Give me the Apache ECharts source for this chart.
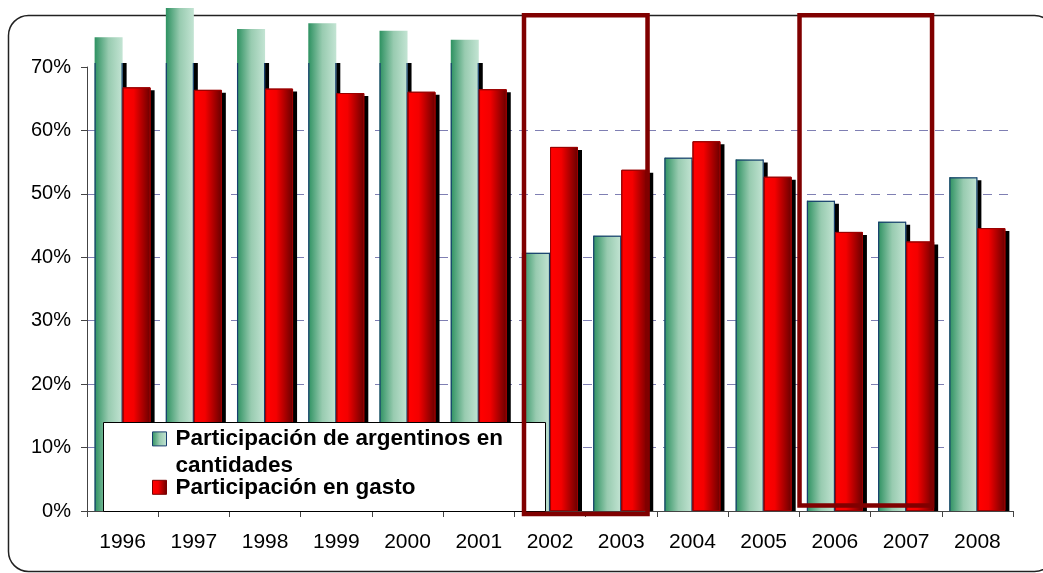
<!DOCTYPE html>
<html>
<head>
<meta charset="utf-8">
<script src="https://cdn.jsdelivr.net/npm/echarts@6/dist/echarts.min.js"></script>
<style>
  html, body { margin: 0; padding: 0; background: #fff; }
  #chart { width: 1043px; height: 573px; }
</style>
</head>
<body>
<div id="chart"></div>
<script>
// ---- data ----
const years = ['1996', '1997', '1998', '1999', '2000', '2001', '2002', '2003', '2004', '2005', '2006', '2007', '2008'];
// share of Argentine visitors in total arrivals (%)
const cantidades = [74.7, 79.3, 76.0, 76.9, 75.7, 74.3, 40.7, 43.4, 55.7, 55.4, 48.9, 45.6, 52.6];
// share of Argentine visitors in total spending (%)
const gasto = [66.8, 66.4, 66.6, 65.9, 66.1, 66.5, 57.4, 53.8, 58.3, 52.7, 44.0, 42.5, 44.6];
const yTicks = [0, 10, 20, 30, 40, 50, 60, 70];
const nameCant = 'Participación de argentinos en cantidades';
const nameGasto = 'Participación en gasto';
const cantLines = ['Participación de argentinos en', 'cantidades'];
// periods framed in dark red
const framedPeriods = [['2002', '2003'], ['2006', '2007']];

// ---- styling ----
const FONT = '"Liberation Sans", Arial, sans-serif';
const BAR_W = 28;
const SH_X = 4, SH_Y = 3;
const NAVY = '#173f6e';
const LEG_LH = 26.6;

const greenFill = new echarts.graphic.LinearGradient(0, 0, 1, 0, [
  { offset: 0, color: '#2d9161' },
  { offset: 0.5, color: '#98cbb0' },
  { offset: 1, color: '#c3e4d3' }
]);
const redFill = new echarts.graphic.LinearGradient(0, 0, 1, 0, [
  { offset: 0, color: '#e80000' },
  { offset: 0.08, color: '#ff0000' },
  { offset: 0.4, color: '#f40000' },
  { offset: 1, color: '#680000' }
]);

const rows = years.map((y, i) => [i, cantidades[i], gasto[i]]);

// drop shadows behind both bars, clipped to the plot area
function renderShadows(params, api) {
  const i = api.value(0);
  const cs = params.coordSys;
  const clip = { x: cs.x, y: cs.y - 4, width: cs.width, height: cs.height + 4 };
  const base = api.coord([i, 0]);
  const cx = base[0];
  const children = [];
  [[api.value(1), -BAR_W], [api.value(2), 0]].forEach(function (p) {
    const top = api.coord([i, p[0]])[1];
    const r = echarts.graphic.clipRectByRect({
      x: cx + p[1] + SH_X, y: top + SH_Y, width: BAR_W, height: base[1] - top
    }, clip);
    if (r) children.push({ type: 'rect', shape: r, style: { fill: '#000' } });
  });
  return { type: 'group', children: children };
}

// navy outline of the green bars, only inside the plot area
function renderOutline(params, api) {
  const i = api.value(0);
  const cs = params.coordSys;
  const clipTop = cs.y - 4;
  const base = api.coord([i, 0]);
  const cx = base[0];
  const bottom = base[1];
  const top = api.coord([i, api.value(1)])[1];
  const t = Math.max(top, clipTop);
  const left = cx - BAR_W + 0.5;
  const right = cx - 0.5;
  const st = { stroke: NAVY, lineWidth: 1.2, fill: null };
  const children = [
    { type: 'line', shape: { x1: left, y1: t, x2: left, y2: bottom }, style: st },
    { type: 'line', shape: { x1: right, y1: t, x2: right, y2: bottom }, style: st }
  ];
  if (top >= clipTop) {
    children.push({ type: 'line', shape: { x1: left, y1: top + 0.5, x2: right, y2: top + 0.5 }, style: st });
  }
  return { type: 'group', children: children };
}

const chart = echarts.init(document.getElementById('chart'), null, { renderer: 'canvas' });

const legendText = { fontFamily: FONT, fontSize: 22.5, fontWeight: 'bold', color: '#000', lineHeight: LEG_LH, padding: [0, 0, 0, 4] };

chart.setOption({
  animation: false,
  backgroundColor: '#fff',
  grid: { left: 87, right: 30, top: 67, bottom: 62, containLabel: false },
  xAxis: {
    type: 'category',
    data: years,
    boundaryGap: true,
    axisLine: { lineStyle: { color: '#444', width: 1 } },
    axisTick: { show: true, length: 6, lineStyle: { color: '#444' } },
    axisLabel: { color: '#000', fontFamily: FONT, fontSize: 21, margin: 21 },
    splitLine: { show: false }
  },
  yAxis: {
    type: 'value',
    min: yTicks[0],
    max: yTicks[yTicks.length - 1],
    interval: yTicks[1] - yTicks[0],
    axisLine: { show: true, lineStyle: { color: '#444', width: 1 } },
    axisTick: { show: true, length: 6, lineStyle: { color: '#444' } },
    axisLabel: { color: '#000', fontFamily: FONT, fontSize: 20, margin: 16, formatter: '{value}%' },
    splitLine: {
      show: true,
      showMinLine: false,
      showMaxLine: false,
      lineStyle: { color: '#7f7fb3', width: 1, type: [9, 7] }
    }
  },
  legend: [
    {
      data: [{ name: nameCant, itemStyle: { borderColor: NAVY, borderWidth: 1 } }],
      // leading blank line keeps the first text line level with the icon
      formatter: function () { return ' \n' + cantLines.join('\n'); },
      orient: 'vertical',
      left: 152, top: 399, padding: 0,
      itemWidth: 14, itemHeight: 14,
      icon: 'rect',
      selectedMode: false,
      textStyle: legendText,
      z: 6
    },
    {
      data: [{ name: nameGasto, itemStyle: { borderColor: '#7a0000', borderWidth: 1 } }],
      orient: 'vertical',
      left: 152, top: 474, padding: 0,
      itemWidth: 14, itemHeight: 14,
      icon: 'rect',
      selectedMode: false,
      textStyle: legendText,
      z: 6
    }
  ],
  series: [
    {
      type: 'custom',
      name: 'shadows',
      renderItem: renderShadows,
      data: rows,
      encode: { x: 0, y: [1, 2] },
      z: 1,
      silent: true
    },
    {
      type: 'bar',
      name: nameCant,
      data: cantidades,
      barWidth: BAR_W,
      barGap: '0%',
      clip: false,
      itemStyle: { color: greenFill, borderWidth: 0 },
      z: 2
    },
    {
      type: 'custom',
      name: 'outline',
      renderItem: renderOutline,
      data: rows,
      encode: { x: 0, y: [1, 2] },
      z: 3,
      silent: true
    },
    {
      type: 'bar',
      name: nameGasto,
      data: gasto,
      barWidth: BAR_W,
      barGap: '0%',
      clip: true,
      itemStyle: { color: redFill, borderColor: '#9a0000', borderWidth: 1 },
      z: 4
    }
  ]
});

// frame, legend box and highlighted periods, placed from the axes
function drawDecorations() {
  const y0 = chart.convertToPixel({ gridIndex: 0 }, [0, 0])[1];
  const cx = function (year) {
    return chart.convertToPixel({ xAxisIndex: 0 }, year);
  };
  const [p1, p2] = framedPeriods;
  const frames = [
    { l: cx(p1[0]) - 26, r: cx(p1[1]) + 26.3, b: y0 + 3 },
    { l: cx(p2[0]) - 35.4, r: cx(p2[1]) + 25.9, b: y0 - 5.5 }
  ];
  const elements = [
    {
      type: 'rect', z: 0, silent: true,
      shape: { x: 8.5, y: 15.5, width: 1046, height: 556, r: 20 },
      style: { fill: null, stroke: '#222', lineWidth: 1.5 }
    },
    {
      type: 'rect', z: 5, silent: true,
      shape: { x: 103.5, y: 422.5, width: 442, height: 89 },
      style: { fill: '#fff', stroke: '#000', lineWidth: 1 }
    }
  ];
  frames.forEach(function (f) {
    elements.push({
      type: 'rect', z: 10, silent: true,
      shape: { x: f.l, y: 15.3, width: f.r - f.l, height: f.b - 15.3 },
      style: { fill: null, stroke: '#800000', lineWidth: 4.5 }
    });
  });
  chart.setOption({ graphic: { elements: elements } });
}
drawDecorations();
</script>
</body>
</html>
